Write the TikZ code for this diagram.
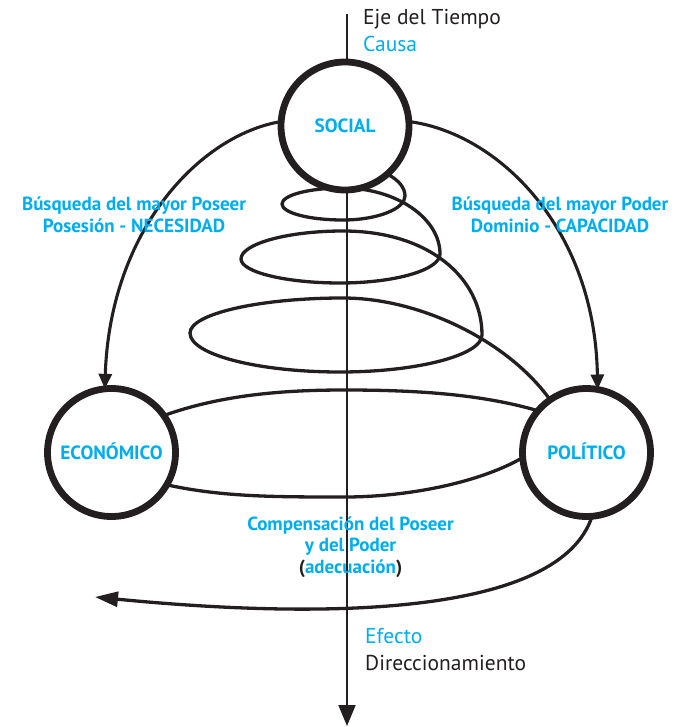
\documentclass[tikz,border=0pt]{standalone}
\usepackage{fontspec}
\setmainfont{PT Sans}
\usetikzlibrary{arrows.meta}
\definecolor{ink}{RGB}{35,31,32}
\definecolor{cyanlbl}{RGB}{0,174,239}
\begin{document}
\begin{tikzpicture}[x=1pt,y=-1pt,line join=round,
  ring/.style={circle, draw=ink, line width=6.8pt, fill=white, minimum size=128pt,
    inner sep=0pt, outer sep=0pt, text=cyanlbl, text height=13pt, text depth=0pt,
    font=\bfseries\fontsize{19.2}{22}\selectfont},
  coil/.style={draw=ink, line width=3.3pt},
  flow/.style={draw=ink, line width=3.1pt, -{Triangle[length=15pt,width=13pt]}},
  timeaxis/.style={draw=ink, line width=2pt, -{Triangle[length=21pt,width=17pt]}},
  lbl/.style={text=cyanlbl, font=\bfseries\fontsize{19}{22}\selectfont, anchor=base, inner sep=0pt},
  plaintxt/.style={font=\fontsize{21.5}{24}\selectfont, anchor=base west, inner sep=0pt}
]
\useasboundingbox (0,0) rectangle (683,727);

% the widening spiral, drawn first so that the circles cover its hidden ends
\draw[coil] (345,165)
  .. controls (378,165) and (405,179) .. (405,196)
  .. controls (405,209) and (377,220) .. (343,220)
  .. controls (309.5,220) and (282,213) .. (282,204)
  .. controls (282,195) and (309.5,188) .. (343,188)
  .. controls (396,188) and (440,218) .. (440,254)
  .. controls (440,270) and (395,283) .. (340,283)
  .. controls (285.5,283) and (241,272) .. (241,259)
  .. controls (241,244) and (287,231) .. (343,231)
  .. controls (429,231) and (482,278) .. (482,335)
  .. controls (482,355) and (418,372) .. (340,372)
  .. controls (257.5,372) and (190,354.5) .. (190,333)
  .. controls (190,314) and (259,298) .. (343,298)
  .. controls (450,298) and (575,380) .. (575,470)
  -- (560,420)
  .. controls (540,470) and (430,497) .. (345,497)
  .. controls (260,497) and (200,497) .. (130,475)
  -- (130,430)
  .. controls (200,395) and (280,390) .. (345,390)
  .. controls (430,390) and (500,396) .. (560,418);

% time axis
\coordinate (axtop) at (347,14);
\coordinate (axbot) at (347,726);
\draw[timeaxis] (axtop) -- (axbot);

% the three spheres
\node[ring] (social) at (345,126) {SOCIAL};
\node[ring] (econ) at (111.5,452.5) {ECONÓMICO};
\node[ring] (pol) at (586.5,452.5) {POLÍTICO};

% influences
\draw[flow] (social.176) .. controls (200,135) and (110,230) .. (econ.96);
\draw[flow] (social.4) .. controls (498,133) and (595,228) .. (pol.80);
\coordinate (leftend) at (95,597);
\draw[draw=ink, line width=3.3pt, -{Triangle[length=23pt,width=15pt]}]
  (pol.275) .. controls (560,615) and (330,620) .. (leftend);

% texts
\node[plaintxt, text=ink] (eje) at (363,25) {Eje del Tiempo};
\node[plaintxt, text=cyanlbl] (causa) at (363,51.5) {Causa};
\node[plaintxt, text=cyanlbl] (efecto) at (365,643) {Efecto};
\node[plaintxt, text=ink] (direc) at (365,670) {Direccionamiento};

\node[lbl] (poseer1) at (134,211) {Búsqueda del mayor Poseer};
\node[lbl] (poseer2) at (134,232.7) {Posesión - NECESIDAD};
\node[lbl] (poder1) at (560,211) {Búsqueda del mayor Poder};
\node[lbl] (poder2) at (560,232.5) {Dominio - CAPACIDAD};

\node[lbl] (comp1) at (350.5,530) {Compensación del Poseer};
\node[lbl] (comp2) at (350.5,551.5) {y del Poder};
\node[lbl] (comp3) at (350.5,573) {{\color{ink}(}adecuación{\color{ink})}};
\end{tikzpicture}
\end{document}
